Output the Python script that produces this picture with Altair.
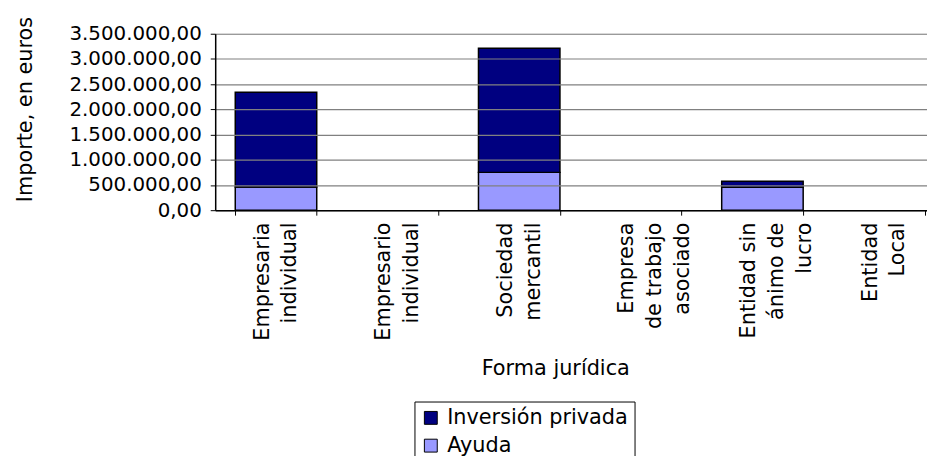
import altair as alt
import pandas as pd

categories = ["Empresaria\nindividual", "Empresario\nindividual", "Sociedad\nmercantil",
              "Empresa\nde trabajo\nasociado", "Entidad sin\nánimo de\nlucro", "Entidad\nLocal"]
ayuda = [460000, 0, 750000, 0, 455000, 0]
inversion = [1880000, 0, 2460000, 0, 120000, 0]
series = ["Inversión privada", "Ayuda"]
colors = ["#000080", "#9999FF"]
y_ticks = [0, 500000, 1000000, 1500000, 2000000, 2500000, 3000000, 3500000]
# non-breaking spaces appended to each label line so lines look centred
line_pad = [[0, 1], [0, 1], [0, 0], [1, 0, 1], [0, 1, 5], [0, 2]]

NB = "\u00a0"
labels = ["\n".join(l + NB * p for l, p in zip(c.split("\n"), pads))
          for c, pads in zip(categories, line_pad)]
label_of = dict(zip(categories, labels))

rows = []
for c, a, i in zip(categories, ayuda, inversion):
    rows.append({"forma": label_of[c], "serie": "Ayuda", "valor": a, "ord": 0})
    rows.append({"forma": label_of[c], "serie": "Inversión privada", "valor": i, "ord": 1})
df = pd.DataFrame(rows)

FONT = "DejaVu Sans"
LH = 28

chart = alt.Chart(df).transform_filter("datum.valor > 0").mark_bar(
    stroke="black", strokeWidth=1.5
).encode(
    x=alt.X("forma:N", sort=labels,
            scale=alt.Scale(domain=labels, range=[0, 736], paddingInner=0.33, paddingOuter=0.165),
            axis=alt.Axis(title="Forma jurídica", labelAngle=270, labelAlign="right",
                          labelBaseline="middle",
                          labelExpr="split(datum.label, '\\n')",
                          labelLineHeight=LH, labelFontSize=21, labelFont=FONT,
                          labelColor="black", labelPadding=7,
                          labelOffset=-LH / 2,
                          labelLimit=0, zindex=1,
                          tickBand="extent", tickColor="black", tickSize=5,
                          domainColor="black", domainWidth=1.5,
                          titleFont=FONT, titleFontSize=21, titleFontWeight="normal",
                          titleColor="black", titleX=343, titleY=160,
                          titleBaseline="middle", titleAlign="center")),
    y=alt.Y("valor:Q", stack="zero",
            scale=alt.Scale(domain=[0, 3500000], nice=False),
            axis=alt.Axis(title="Importe, en euros", values=y_ticks,
                          labelExpr="replace(join(split(replace(format(datum.value, ',.2f'), '.', ';'), ','), '.'), ';', ',')",
                          labelFontSize=20, labelFont=FONT, labelColor="black",
                          labelPadding=9, tickColor="black", tickSize=5, zindex=1,
                          domainColor="black", domainWidth=1.5,
                          gridColor="#808080", gridWidth=1.2,
                          titleFont=FONT, titleFontSize=21, titleFontWeight="normal",
                          titleColor="black", titleAngle=270, titleX=-191, titleY=76,
                          titleBaseline="middle", titleAlign="center")),
    color=alt.Color("serie:N", scale=alt.Scale(domain=series, range=colors),
                    legend=alt.Legend(title=None, orient="none", legendX=201, legendY=371,
                                      direction="vertical", symbolType="square",
                                      symbolSize=169, symbolStrokeColor="black",
                                      symbolStrokeWidth=1, labelFontSize=21, labelFont=FONT,
                                      labelColor="black", strokeColor="black", labelLimit=0,
                                      fillColor="white", padding=6, rowPadding=6,
                                      labelOffset=6)),
    order=alt.Order("ord:Q", sort="ascending"),
).properties(
    width=718, height=178,
    autosize=alt.AutoSizeParams(type="none"),
    padding={"left": 209, "top": 24, "right": 0, "bottom": 246},
).configure_view(stroke=None).configure(background="white")

chart.save("out.html", embed_options={"renderer": "svg", "actions": False})
